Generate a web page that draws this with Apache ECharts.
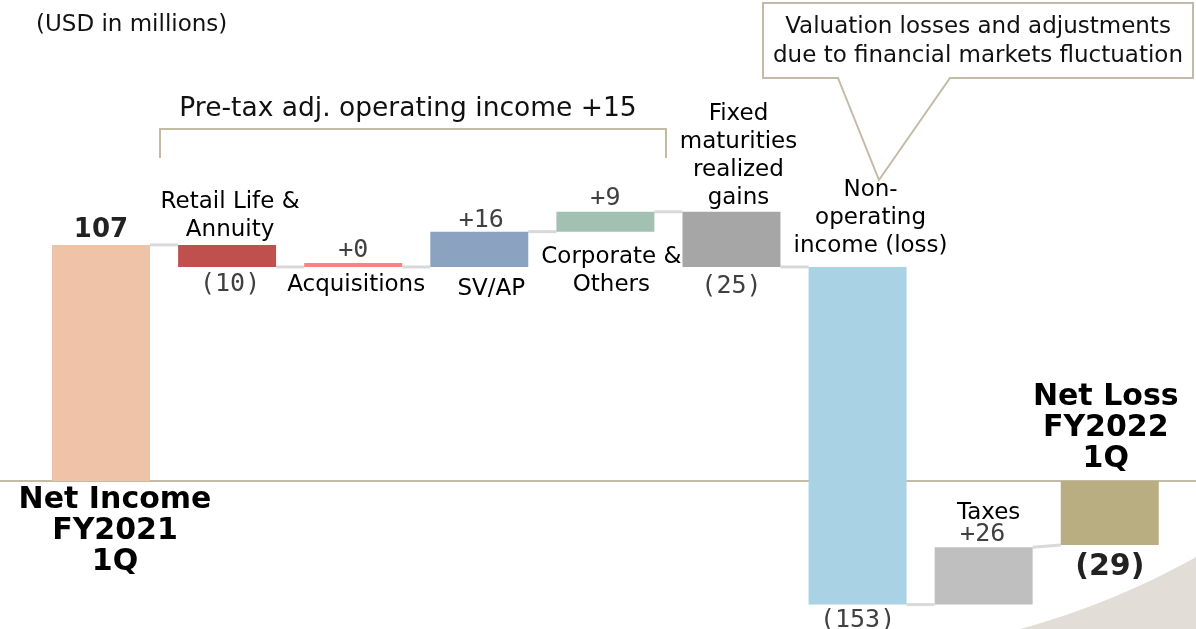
<!DOCTYPE html>
<html>
<head>
<meta charset="utf-8">
<title>Net income bridge</title>
<script src="https://cdn.jsdelivr.net/npm/echarts@6/dist/echarts.min.js"></script>
<style>
  html, body { margin: 0; padding: 0; background: #fff; }
  #chart { width: 1196px; height: 629px; }
</style>
</head>
<body>
<div id="chart"></div>
<script>
// data
const categories = ['Net Income FY2021 1Q', 'Retail Life & Annuity', 'Acquisitions', 'SV/AP',
  'Corporate & Others', 'Fixed maturities realized gains', 'Non-operating income (loss)', 'Taxes',
  'Net Loss FY2022 1Q'];
const changes = [107, -10, 0, 16, 9, -25, -153, 26, -29];
const isTotal = [true, false, false, false, false, false, false, false, true];
const valueLabels = ['107', '(10)', '+0', '+16', '+9', '(25)', '(153)', '+26', '(29)'];
const nameLabels = ['Net Income\nFY2021\n1Q', 'Retail Life &\nAnnuity', 'Acquisitions', 'SV/AP',
  'Corporate &\nOthers', 'Fixed\nmaturities\nrealized\ngains', 'Non-\noperating\nincome (loss)', 'Taxes',
  'Net Loss\nFY2022\n1Q'];
const unitNote = '(USD in millions)';
const bracketNote = 'Pre-tax adj. operating income +15';
const calloutNote = 'Valuation losses and adjustments\ndue to financial markets fluctuation';

// styles / label offsets (px, negative = above bar top, positive = below bar bottom)
const barColors = ['#efc3a7', '#c0504d', '#ff8080', '#8ba2c0', '#a3c1b2', '#a6a6a6', '#a9d2e5', '#bfbfbf', '#b8ae82'];
const valueDy = [-15, 18, -12, -11, -13, 20, 16, -13, 22];
const valueDx = [0, 3, 0, 2, 0, 0, 0, -1, 0];
const nameDy = [50, -29, 18, 22, 39, -56, -49, -34, -53];
const nameDx = [14, 3, 3, 12, 6, 7, 13, 5, -4];
const FONT = 'DejaVu Sans';
const MONO = 'DejaVu Sans Mono';
const LINE = '#c4bba6';

// running totals
const starts = [], ends = [];
let run = 0;
changes.forEach((c, i) => {
  if (isTotal[i]) { starts.push(0); ends.push(c); run = c; }
  else { starts.push(run); run += c; ends.push(run); }
});
const seriesData = changes.map((c, i) => [i, starts[i], ends[i]]);

// decorative corner swoosh (quadratic curve outline)
const swoosh = [];
for (let k = 0; k <= 20; k++) {
  const t = k / 20;
  swoosh.push([
    (1 - t) * (1 - t) * 1196 + 2 * t * (1 - t) * 1112 + t * t * 1020,
    (1 - t) * (1 - t) * 557 + 2 * t * (1 - t) * 604 + t * t * 629
  ]);
}
swoosh.push([1196, 629]);

function renderBar(params, api) {
  const i = api.value(0);
  const s = api.value(1), e = api.value(2);
  const w = api.size([0.777, 0])[0];
  const pTop = api.coord([i, Math.max(s, e)]);
  const pBot = api.coord([i, Math.min(s, e)]);
  let top = pTop[1], bottom = pBot[1];
  if (bottom - top < 4) top = bottom - 4;
  const cx = pTop[0];
  const children = [];

  if (i < changes.length - 1) {
    const a = api.coord([i, e]);
    const nextLevel = isTotal[i + 1] ? ends[i + 1] : starts[i + 1];
    const b = api.coord([i + 1, nextLevel]);
    children.push({
      type: 'line',
      shape: { x1: a[0] + w / 2, y1: a[1], x2: b[0] - w / 2, y2: b[1] },
      style: { stroke: '#d9d9d9', lineWidth: 3 }
    });
  }
  children.push({
    type: 'rect',
    shape: { x: cx - w / 2, y: top, width: w, height: bottom - top },
    style: { fill: barColors[i] }
  });

  const bold = isTotal[i];
  const vy = valueDy[i] < 0 ? top + valueDy[i] : bottom + valueDy[i];
  children.push({
    type: 'text',
    style: {
      text: valueLabels[i], x: cx + valueDx[i], y: vy,
      align: 'center', verticalAlign: 'middle',
      fill: bold ? '#222' : '#404040',
      fontFamily: bold ? FONT : MONO, fontWeight: bold ? 'bold' : 'normal',
      fontSize: i === 8 ? 30 : bold ? 26 : 25
    }
  });
  const ny = nameDy[i] < 0 ? top + nameDy[i] : bottom + nameDy[i];
  children.push({
    type: 'text',
    style: {
      text: nameLabels[i], x: cx + nameDx[i], y: ny,
      align: 'center', verticalAlign: 'middle',
      fill: '#000', lineHeight: bold ? 31 : 28,
      fontFamily: FONT, fontWeight: bold ? 'bold' : 'normal',
      fontSize: bold ? 30 : 23
    }
  });
  return { type: 'group', children: children };
}

const chart = echarts.init(document.getElementById('chart'));
chart.setOption({
  animation: false,
  grid: { left: 0, right: 0, top: 150, bottom: 15.6 },
  xAxis: {
    type: 'value', min: -0.801, max: 8.684,
    axisLine: { show: true, onZero: true, lineStyle: { color: LINE, width: 2 } },
    axisTick: { show: false }, axisLabel: { show: false }, splitLine: { show: false }
  },
  yAxis: { type: 'value', min: -60, max: 150, show: false },
  graphic: [
    {
      type: 'polygon', z: -10, silent: true,
      shape: { points: swoosh },
      style: { fill: '#e2ded7' }
    },
    {
      type: 'text', left: 36, top: 14,
      style: { text: unitNote, fontFamily: FONT, fontSize: 23, fill: '#111' }
    },
    {
      type: 'polyline',
      shape: { points: [[160, 158], [160, 129], [666, 129], [666, 158]] },
      style: { stroke: LINE, lineWidth: 2, fill: null }
    },
    {
      type: 'text', x: 408, y: 109,
      style: { text: bracketNote, fontFamily: FONT, fontSize: 26.5, fill: '#111', align: 'center', verticalAlign: 'middle' }
    },
    {
      type: 'polygon',
      shape: { points: [[763, 3], [1193, 3], [1193, 78], [950, 78], [879, 180], [838, 78], [763, 78]] },
      style: { stroke: LINE, lineWidth: 2, fill: '#fff' }
    },
    {
      type: 'text', x: 978, y: 42,
      style: { text: calloutNote, fontFamily: FONT, fontSize: 23, fill: '#111', align: 'center', verticalAlign: 'middle', lineHeight: 29 }
    }
  ],
  series: [{
    type: 'custom',
    name: 'bridge',
    renderItem: renderBar,
    encode: { x: 0, y: [1, 2] },
    data: seriesData,
    z: 3
  }]
});
</script>
</body>
</html>
